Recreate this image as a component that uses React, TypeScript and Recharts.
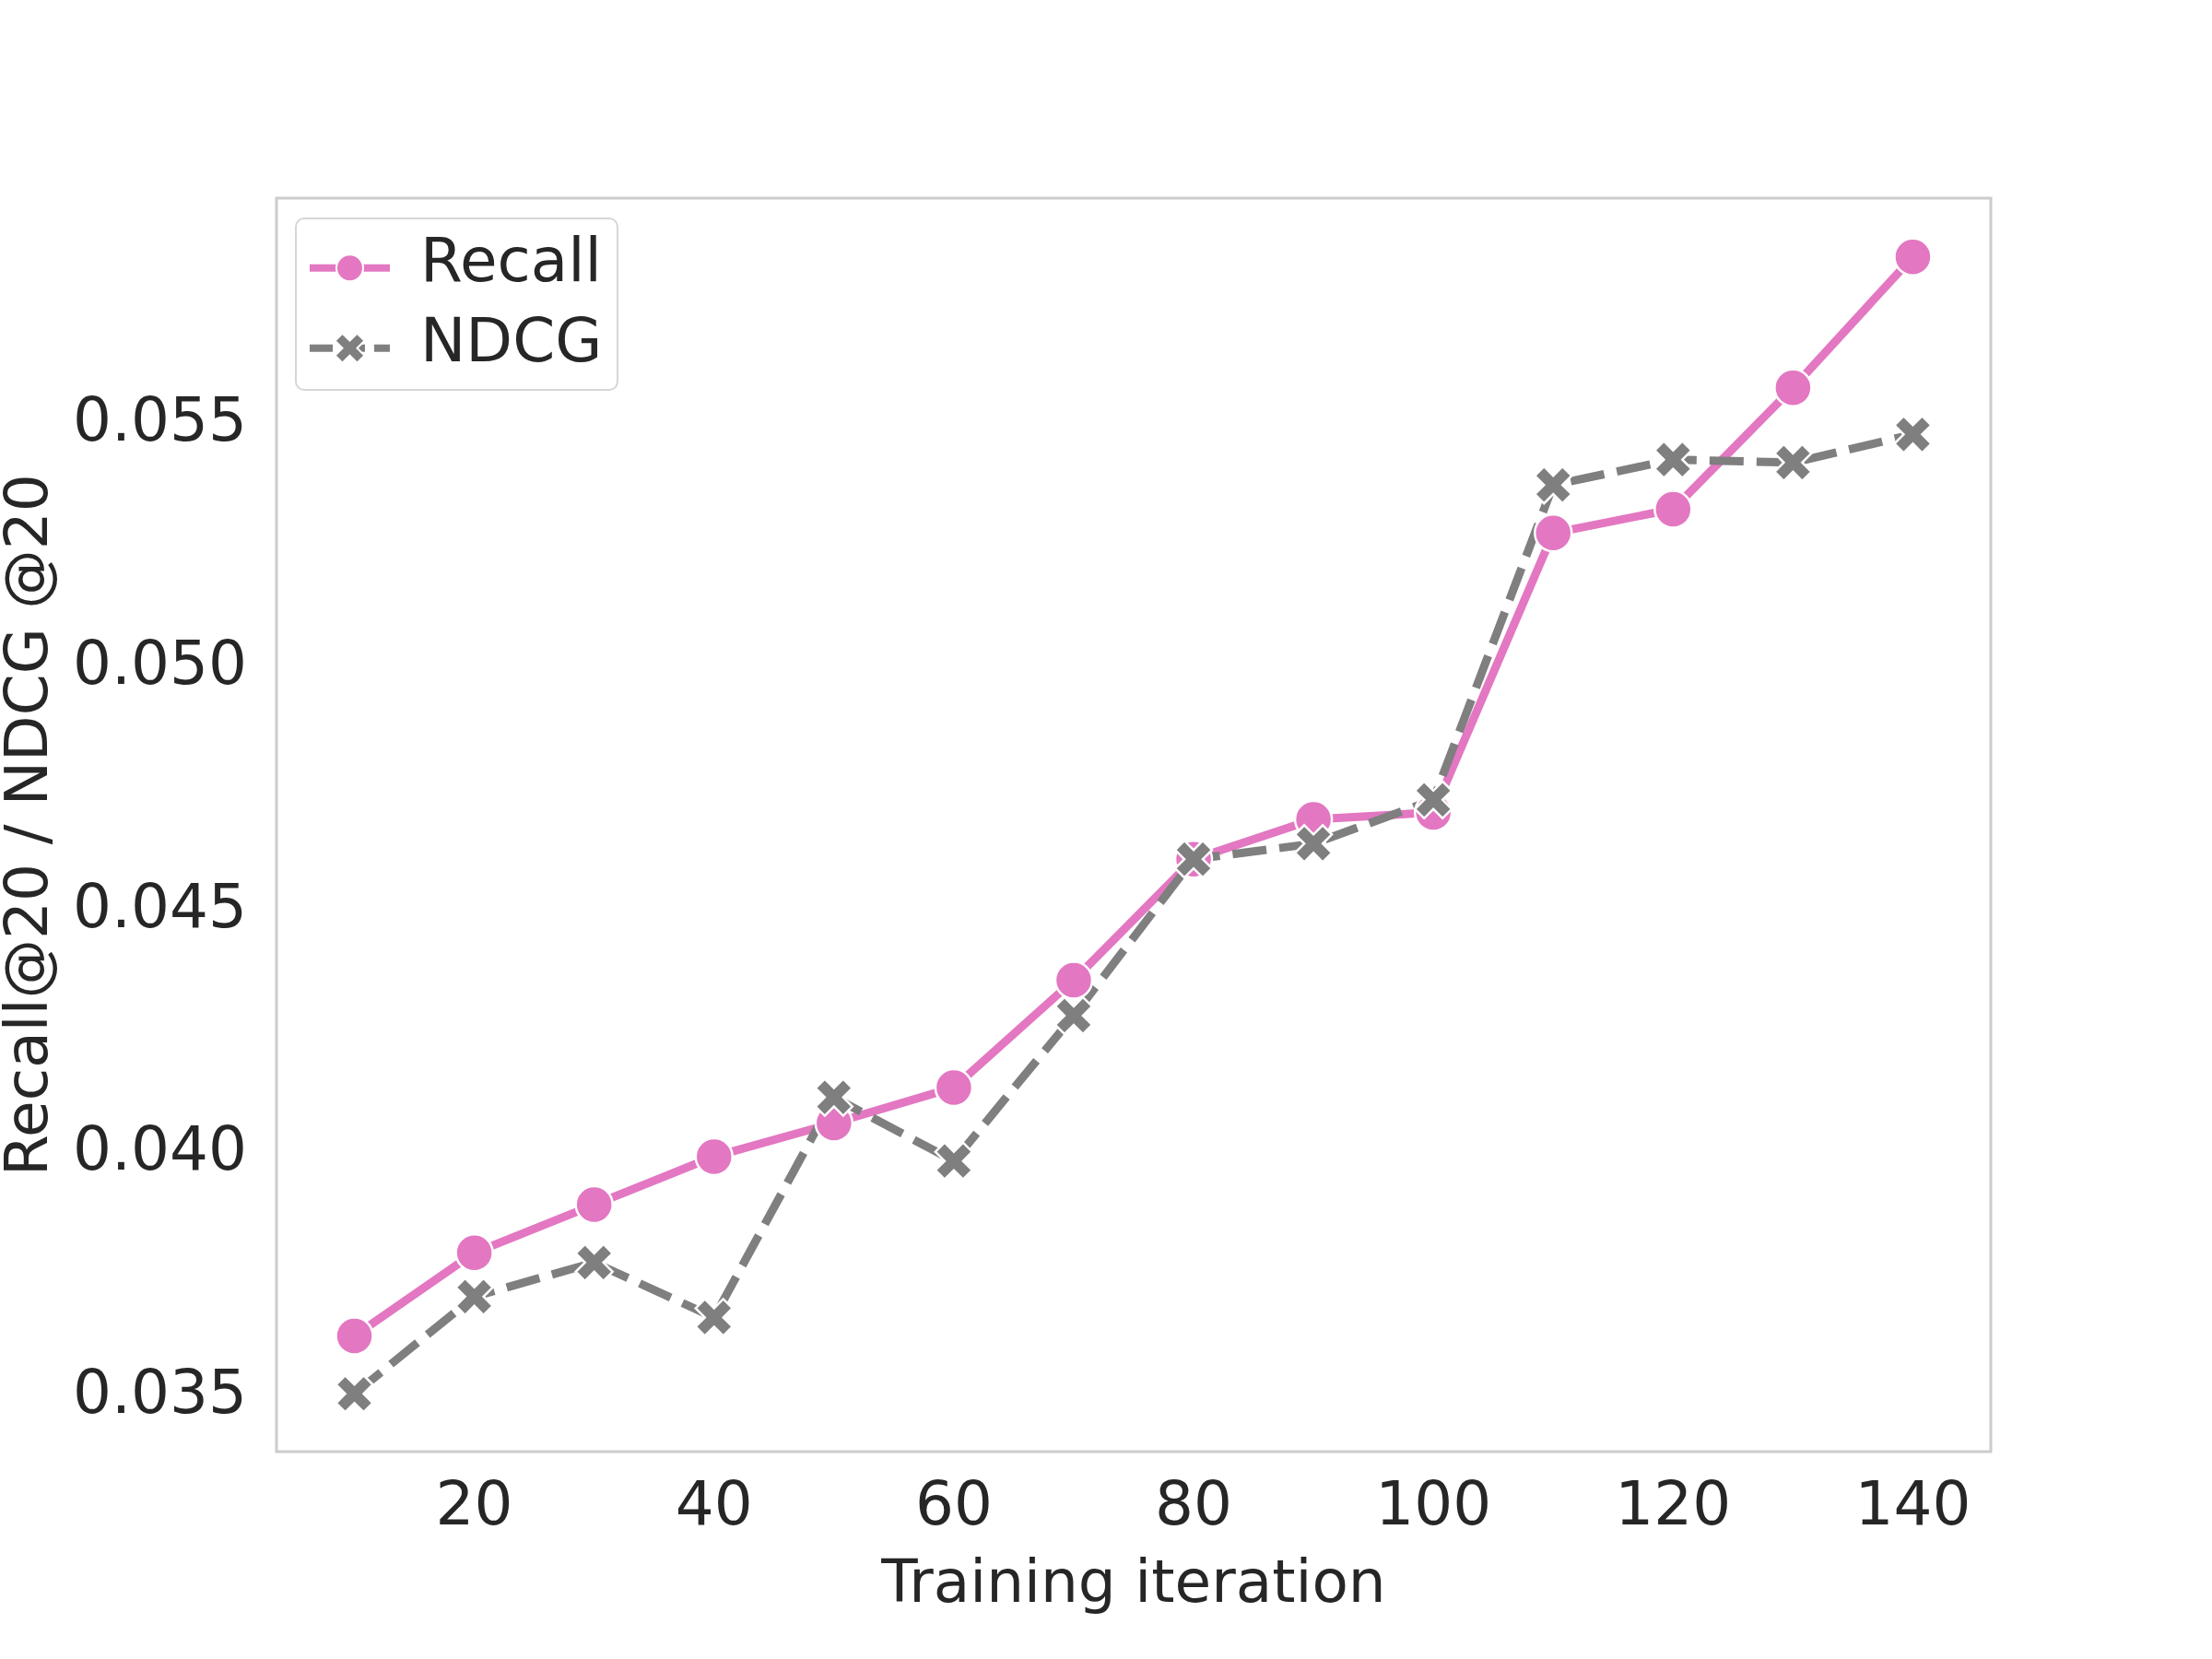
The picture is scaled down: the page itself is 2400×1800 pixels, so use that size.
import React from 'react';
import { LineChart, Line, XAxis, YAxis, Legend, Label, ReferenceArea } from 'recharts';

const iterations = [10, 20, 30, 40, 50, 60, 70, 80, 90, 100, 110, 120, 130, 140];
const recallValues = [0.03614, 0.03785, 0.03884, 0.03983, 0.04052, 0.04125, 0.04346, 0.04595, 0.04677, 0.04691, 0.05266, 0.05315, 0.05565, 0.05834];
const ndcgValues = [0.03495, 0.03695, 0.03765, 0.03652, 0.04105, 0.03974, 0.04273, 0.04595, 0.04627, 0.04717, 0.05365, 0.05417, 0.05411, 0.05469];
const xTicks = [20, 40, 60, 80, 100, 120, 140];
const yTicks = [0.035, 0.04, 0.045, 0.05, 0.055];
const xDomain = [3.5, 146.5];
const yDomain = [0.03376, 0.05955];
const seriesNames = ['Recall', 'NDCG'];

const PINK = '#e377c2';
const GRAY = '#7f7f7f';
const TEXT = '#262626';
const FRAME = '#cccccc';
const FONT = '"DejaVu Sans", sans-serif';
const TICK_FONT = 66;
const LABEL_FONT = 64.5;

const data = iterations.map((it, i) => ({ it, recall: recallValues[i], ndcg: ndcgValues[i] }));

function xPoints(cx: number, cy: number, h: number): string {
  const base = [[-1, -3], [-1, -1], [-3, -1], [-3, 1], [-1, 1], [-1, 3], [1, 3], [1, 1], [3, 1], [3, -1], [1, -1], [1, -3]];
  const u = h / (4 / Math.SQRT2);
  return base
    .map(([x, y]) => `${cx + ((x - y) / Math.SQRT2) * u},${cy + ((x + y) / Math.SQRT2) * u}`)
    .join(' ');
}

const CircleDot = (props: any) => {
  const { cx, cy, index } = props;
  if (cx == null || cy == null) return null;
  return <circle key={`c-${index}`} cx={cx} cy={cy} r={20} fill={PINK} stroke="#ffffff" strokeWidth={2.5} />;
};

const XDot = (props: any) => {
  const { cx, cy, index } = props;
  if (cx == null || cy == null) return null;
  return <polygon key={`x-${index}`} points={xPoints(cx, cy, 20)} fill={GRAY} stroke="#ffffff" strokeWidth={2.5} strokeLinejoin="miter" />;
};

const renderLegend = () => (
  <svg width={352} height={190} style={{ display: 'block', overflow: 'visible' }}>
    <rect x={1} y={1} width={349} height={186} rx={9} ry={9} fill="#ffffff" fillOpacity={0.8} stroke="#d6d6d6" strokeWidth={2} />
    <line x1={16} y1={54.7} x2={103} y2={54.7} stroke={PINK} strokeWidth={8} />
    <circle cx={59.5} cy={54.7} r={14.5} fill={PINK} stroke="#ffffff" strokeWidth={2} />
    <text x={136} y={69} fontFamily={FONT} fontSize={66} fill={TEXT}>{seriesNames[0]}</text>
    <line x1={16} y1={141.7} x2={103} y2={141.7} stroke={GRAY} strokeWidth={8} strokeDasharray="25 10" />
    <polygon points={xPoints(59.5, 141.7, 16)} fill={GRAY} stroke="#ffffff" strokeWidth={2} />
    <text x={136} y={156} fontFamily={FONT} fontSize={66} fill={TEXT}>{seriesNames[1]}</text>
  </svg>
);

const tickStyle = { fontFamily: FONT, fontSize: TICK_FONT, fill: TEXT };
const frameLine = { stroke: FRAME, strokeWidth: 3 };

export default function App() {
  return (
    <div style={{ position: 'absolute', left: 0, top: 0, width: 2400, height: 1800, background: '#ffffff' }}>
      <LineChart
        width={2400}
        height={1800}
        data={data}
        margin={{ top: 215, right: 240, bottom: 0, left: 0 }}
        style={{ fontFamily: FONT }}
      >
        <XAxis
          dataKey="it"
          type="number"
          domain={xDomain}
          ticks={xTicks}
          allowDataOverflow
          height={225}
          tickSize={0}
          tickMargin={32}
          tickLine={false}
          axisLine={false}
          tick={tickStyle}
        >
          <Label
            content={(props: any) => {
              const vb = props.viewBox || { x: 300, y: 1575, width: 1860 };
              return (
                <text x={vb.x + vb.width / 2} y={vb.y + 163} textAnchor="middle" fontFamily={FONT} fontSize={LABEL_FONT} fill={TEXT}>
                  Training iteration
                </text>
              );
            }}
          />
        </XAxis>
        <YAxis
          type="number"
          domain={yDomain}
          ticks={yTicks}
          allowDataOverflow
          width={300}
          tickSize={0}
          tickMargin={32}
          tickLine={false}
          axisLine={false}
          tick={tickStyle}
          tickFormatter={(v: number) => v.toFixed(3)}
        >
          <Label
            content={(props: any) => {
              const vb = props.viewBox || { x: 0, y: 215, height: 1360 };
              const cy = vb.y + vb.height / 2;
              return (
                <text x={51} y={cy} transform={`rotate(-90 51 ${cy})`} textAnchor="middle" fontFamily={FONT} fontSize={LABEL_FONT} fill={TEXT}>
                  Recall@20 / NDCG @20
                </text>
              );
            }}
          />
        </YAxis>
        <ReferenceArea
          x1={xDomain[0]}
          x2={xDomain[1]}
          y1={yDomain[0]}
          y2={yDomain[1]}
          ifOverflow="visible"
          fill="none"
          fillOpacity={0}
          stroke={FRAME}
          strokeWidth={3}
        />
        <Legend
          content={renderLegend}
          layout="horizontal"
          verticalAlign="middle"
          align="center"
          wrapperStyle={{ left: 320, top: 236, width: 352, height: 190 }}
        />
        <Line
          type="linear"
          dataKey="recall"
          name={seriesNames[0]}
          stroke={PINK}
          strokeWidth={9}
          strokeLinejoin="round"
          dot={<CircleDot />}
          activeDot={false}
          isAnimationActive={false}
        />
        <Line
          type="linear"
          dataKey="ndcg"
          name={seriesNames[1]}
          stroke={GRAY}
          strokeWidth={9}
          strokeDasharray="37 14"
          strokeLinejoin="round"
          dot={<XDot />}
          activeDot={false}
          isAnimationActive={false}
        />
      </LineChart>
    </div>
  );
}
